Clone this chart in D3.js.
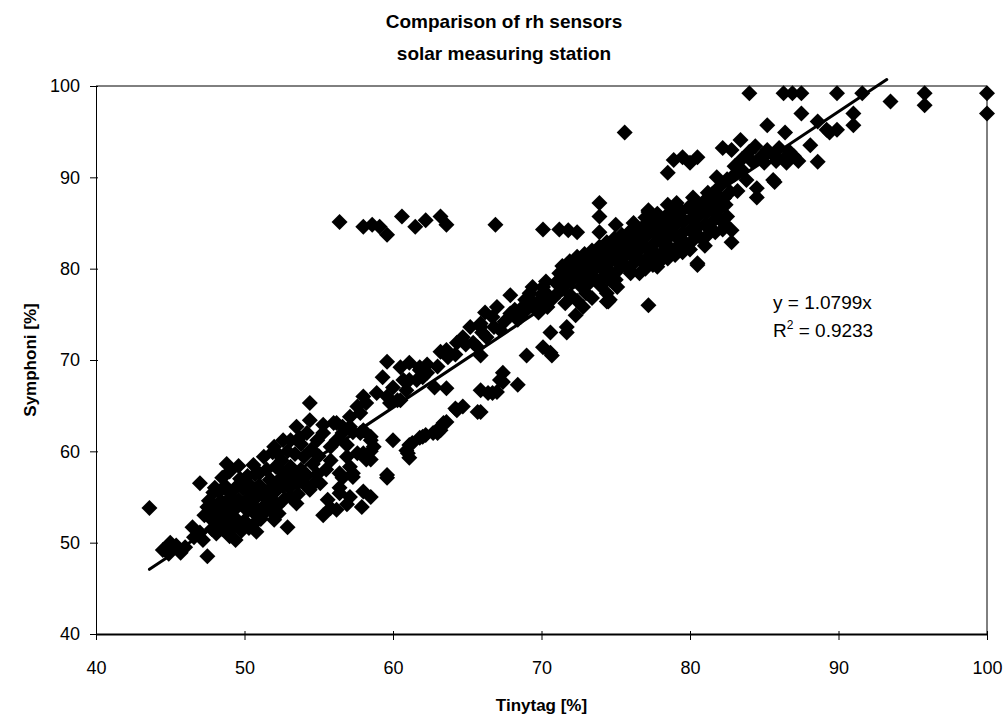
<!DOCTYPE html>
<html>
<head>
<meta charset="utf-8">
<script src="https://cdn.jsdelivr.net/npm/d3@7"></script>
<style>
  html, body { margin: 0; padding: 0; background: #fff; }
  svg { display: block; font-family: "Liberation Sans", Arial, sans-serif; }
</style>
</head>
<body>
<svg id="chart" width="1006" height="720"></svg>
<script>
// ---------------- DATA ----------------
const titleLines = ["Comparison of rh sensors", "solar measuring station"];
const xTitle = "Tinytag [%]";
const yTitle = "Symphoni [%]";
const xTicks = [40, 50, 60, 70, 80, 90, 100];
const yTicks = [40, 50, 60, 70, 80, 90, 100];
const slope = 1.0799;
const rSquared = "0.9233";

// [Tinytag, Symphoni]
const pointsLow = [
  [43.6,53.8],[44.5,49.2],[45.0,50.0],[45.0,49.2],[45.7,48.9],[45.4,49.7],[46.0,49.5],[44.9,48.8],
  [46.5,51.7],[47.0,51.1],[46.6,50.6],[47.5,48.5],[47.2,50.3],
  [47.0,56.5],[48.5,57.1],[47.5,53.9],[47.9,55.5],[47.8,52.5],[48.0,53.3],[47.6,54.6],
  [48.5,51.5],[48.8,52.3],[48.6,53.5],[48.9,54.5],[48.3,55.6],[48.7,56.2],[49.0,50.7],[49.2,51.6],
  [49.3,52.8],[49.5,53.9],[49.1,55.0],[49.4,56.0],[49.7,57.0],[49.8,51.3],[50.0,52.4],[50.2,53.5],
  [50.1,54.6],[50.4,55.5],[49.9,55.9],[50.6,52.0],[50.8,53.0],[50.5,54.2],[50.9,55.1],[51.0,56.3],
  [51.2,53.8],[51.4,54.9],[51.1,52.6],[51.6,55.7],[51.8,56.8],[50.8,51.2],[49.4,50.3],[52.9,51.7],[52.0,52.5],
  [48.2,54.0],[48.0,56.0],[47.3,53.0],[49.6,54.7],[50.3,56.4],[50.7,57.5],[49.0,57.8],[48.4,52.1],[48.1,51.0],
  [51.7,56.9],[52.6,57.6],[53.1,58.3],[54.0,59.4],[54.9,61.2],[55.3,62.0],[54.2,62.0],[53.5,62.7],[53.1,61.2],
  [52.2,59.8],[51.3,59.4],[50.6,58.5],[52.0,60.5],[52.6,61.2],
  [54.4,63.4],[55.3,62.9],[56.0,63.1],[54.4,65.3],
  [54.4,55.8],[55.1,56.5],[54.2,57.4],[53.1,55.0],[53.5,54.3],[55.6,54.7],[56.4,55.4],
  [52.0,54.5],[52.2,55.8],[52.4,57.0],[52.1,58.3],[52.6,56.2],[52.8,57.6],[52.3,53.2],[53.6,56.5],
  [53.0,57.0],[53.8,58.0],[54.6,58.6],[54.9,57.5],[53.4,59.7],[52.9,60.0],
  [51.5,58.0],[51.0,57.6],[50.2,57.3],[51.9,53.3],
  [55.8,53.8],[55.3,53.0],[56.2,53.6],[56.6,57.1],[57.3,57.2],[56.4,56.0],[57.1,55.0],[56.9,54.2],
  [58.0,55.6],[58.5,55.0],[57.9,53.9],[59.6,57.1],
  [56.9,60.7],[57.6,59.8],[58.2,59.1],[58.5,60.0],[57.8,62.0],[57.3,62.1],[56.6,62.7],[56.2,63.1],
  [55.8,60.5],[56.2,61.2],[56.6,62.0],[57.1,62.7],[58.0,62.3],[58.5,61.2],[58.0,59.8],[58.5,59.1],
  [56.9,59.4],[57.1,58.3],[56.4,57.6],[57.3,57.6],[58.7,60.5],[58.5,61.6],
  [47.8,51.5],[48.2,52.8],[48.4,54.6],[48.9,55.6],[49.1,53.4],[49.6,52.2],[49.8,54.2],[50.3,51.6],[50.6,53.5],
  [50.7,55.8],[51.3,53.2],[51.5,54.3],[51.7,55.2],[51.2,55.6],[52.2,54.0],[52.4,56.3],[53.0,56.0],[53.3,57.5],
  [52.7,54.8],[50.0,56.9],[49.6,58.4],[48.8,58.6],[53.8,60.8],[54.5,60.2],[55.0,59.5],[53.9,57.2],[55.5,58.0],
  [55.8,59.0],[54.1,56.3],[54.8,56.7],[53.6,55.3],[52.5,59.0],[51.9,59.9],[53.7,61.5]
];

const pointsMid = [
  [58.9,66.4],[59.6,66.0],[60.5,65.6],[58.0,66.0],[57.6,64.9],[57.1,63.8],[59.8,65.3],[58.2,65.3],[57.8,64.2],
  [59.6,69.8],[60.5,69.2],[61.1,69.7],[61.8,69.2],[62.3,68.6],[61.6,67.8],[60.7,67.8],[60.0,67.0],[59.3,68.1],
  [60.9,66.7],[62.0,68.1],[61.1,67.8],
  [63.2,70.9],[63.6,71.1],[63.7,70.3],[62.3,69.5],[61.8,68.9],[60.3,65.6],
  [64.7,72.5],[65.2,73.6],[65.9,74.0],[66.7,74.7],[65.4,71.9],[66.3,72.5],[67.2,73.3],[65.7,71.4],[65.9,73.6],
  [67.9,75.1],[68.4,74.4],[68.6,74.7],[69.0,75.5],[69.9,76.6],[69.4,78.0],[67.9,77.1],[69.2,77.3],[70.1,78.0],
  [71.0,78.4],[70.5,77.0],[71.5,79.0],
  [62.8,67.0],[63.0,69.3],[64.2,70.6],[65.9,70.5],
  [69.5,76.2],[70.0,77.2],[70.4,75.8],[70.8,76.8],[71.2,77.5],[71.6,76.2],[72.0,77.0],[72.4,76.5],
  [69.8,75.2],[68.8,75.9],[70.3,78.6],[73.0,77.3],[73.4,76.8],
  [74.6,78.8],[75.1,78.0],[74.4,77.3],[76.6,79.5],[75.9,79.9],[77.8,80.2],
  [66.0,73.0],[66.8,73.6],[67.5,74.2],[68.2,75.5],[68.9,76.6],[67.0,75.8],[66.2,75.2],[64.9,71.7],[64.3,71.9]
];

const pointsLowerBranch = [
  [59.6,57.4],[60.0,61.2],[61.1,60.7],[61.0,59.8],[61.1,59.3],[60.9,60.1],[61.3,60.9],[61.8,61.5],[62.0,61.6],
  [62.2,61.8],[62.7,62.0],[63.0,62.0],[63.2,62.3],[63.2,62.7],[63.4,63.1],[63.6,63.2],[63.6,66.9],
  [64.2,64.7],[64.3,64.5],[64.7,64.9],[65.7,64.3],[65.9,64.3],[65.9,66.7],[66.4,66.4],[66.7,66.4],[67.0,66.5],
  [67.2,67.8],[67.4,67.6],[67.4,68.6],[68.4,67.3],
  [69.0,70.5],[70.1,71.4],[70.6,70.8],[70.7,70.5],[70.6,73.0],[71.7,73.6],[71.7,73.0],[72.3,74.9],[72.8,75.8],
  [74.4,76.4],[74.6,76.6],[74.5,76.4],[77.2,76.0]
];

const pointsMain = [
  [71.0,78.5],[71.2,79.5],[71.5,78.0],[71.6,79.2],[71.4,80.3],[72.0,78.6],[72.1,79.8],[71.9,80.8],
  [72.5,79.0],[72.6,80.2],[72.4,81.3],[72.7,78.0],[73.0,79.4],[73.1,80.6],[72.9,81.6],[73.2,78.4],
  [73.5,79.8],[73.6,81.0],[73.4,82.0],[73.7,78.8],[74.0,80.2],[74.1,81.4],[73.9,82.4],[74.2,79.2],[74.0,78.1],
  [74.5,80.5],[74.6,81.8],[74.4,82.9],[74.7,79.5],[75.0,80.9],[75.1,82.1],[74.9,83.3],[75.2,79.9],[75.0,78.8],
  [75.5,81.2],[75.6,82.5],[75.4,83.7],[75.7,80.3],[76.0,81.6],[76.1,82.9],[75.9,84.0],[76.2,80.6],[76.0,79.5],
  [76.5,81.9],[76.6,83.2],[76.4,84.4],[76.7,80.9],[77.0,82.3],[77.1,83.6],[76.9,84.7],[77.2,81.3],[77.0,80.0],
  [77.5,82.6],[77.6,83.9],[77.4,85.1],[77.7,81.6],[77.5,80.4],[78.0,83.0],[78.1,84.2],[77.9,85.4],[78.2,81.9],
  [78.0,80.8],[77.2,86.4],[78.5,83.3],[78.6,84.6],[78.4,85.8],[78.7,82.2],[78.5,81.1],
  [79.0,83.6],[79.1,84.9],[78.9,86.1],[79.2,82.5],[79.0,81.5],[79.1,87.2],[79.5,83.9],[79.6,85.2],[79.4,86.4],
  [79.7,82.8],[79.5,81.8],[80.0,84.2],[80.1,85.5],[79.9,86.7],[80.2,83.1],[80.0,82.1],
  [80.5,84.5],[80.6,85.8],[80.4,87.0],[80.7,83.4],[80.5,80.6],[81.0,84.8],[81.1,86.1],[80.9,87.3],[81.2,83.7],
  [81.0,82.5],[81.5,85.1],[81.6,86.4],[81.4,87.6],[81.7,84.0],[82.0,85.4],[82.1,86.7],[81.9,88.0],[82.2,84.3],
  [82.5,85.7],[82.4,87.0],[78.5,87.0],[77.2,86.2],[80.5,80.4],[82.8,84.2],[82.8,82.9],
  [71.3,78.9],[71.8,79.7],[72.3,80.0],[72.8,80.9],[73.3,81.3],[73.8,81.7],[74.3,82.2],[74.8,82.6],[75.3,83.0],
  [75.8,83.3],[76.3,83.7],[76.8,84.0],[77.3,84.4],[77.8,84.7],[78.3,85.1],[78.8,85.4],[79.3,85.8],[80.3,86.3],
  [80.8,86.6],[81.3,86.9],[81.8,87.2],
  [73.3,79.6],[74.3,80.0],[75.3,80.5],[76.3,81.2],[77.3,81.9],[78.3,82.5],[79.3,83.2],[80.3,83.8],[81.3,84.4],
  [82.3,85.0],[76.2,85.0],[77.0,85.6],[77.8,86.0],[80.2,87.8],[81.2,88.3],[82.7,88.4]
];

const pointsHigh = [
  [81.5,88.2],[82.0,89.0],[82.5,89.8],[83.0,90.3],[83.5,90.8],[82.3,87.7],[83.2,88.5],[81.8,90.0],
  [83.8,89.7],[84.5,88.8],[84.5,87.8],[85.6,89.7],[85.7,89.5],
  [78.5,90.5],[78.9,91.9],[79.5,92.2],[80.0,91.6],[80.5,92.2],
  [82.2,93.2],[82.8,93.0],[83.4,94.1],
  [83.5,92.0],[84.0,92.8],[84.4,93.4],[84.8,92.3],[85.2,93.0],[85.6,92.5],[86.0,93.2],[86.3,92.0],[86.7,92.8],
  [87.0,92.3],[87.3,91.8],[84.2,91.7],[85.0,91.6],[85.8,91.8],[86.5,91.6],[83.0,91.2],[88.1,93.5],[88.6,91.7],
  [86.4,94.9]
];

const pointsTop = [
  [84.0,99.2],[86.3,99.2],[86.9,99.2],[87.5,99.2],[89.9,99.2],[91.6,99.2],[93.5,98.3],[95.8,99.2],[95.8,97.9],
  [100.0,99.2],[100.0,97.0],[87.5,97.0],[85.2,95.7],[91.0,97.0],[91.0,95.7],[88.6,96.1],[89.2,95.2],[89.9,95.2],
  [89.4,94.9],[75.6,94.9]
];

const pointsOutliers = [
  [56.4,85.1],[58.0,84.6],[58.6,84.8],[59.1,84.6],[59.6,83.7],[60.6,85.7],[61.5,84.6],[62.2,85.3],[63.2,85.7],
  [63.6,84.8],[66.9,84.8],[70.1,84.3],[71.2,84.3],[71.8,84.2],[72.4,84.0],[73.9,87.2],[73.9,85.7],[73.9,84.0],
  [75.0,84.8]
];

// ---------------- CHART ----------------
const svg = d3.select("#chart");
const W = 1006, H = 720;
const plot = { left: 96, right: 987, top: 86, bottom: 634 };

const x = d3.scaleLinear().domain([40, 100]).range([plot.left, plot.right]);
const y = d3.scaleLinear().domain([40, 100]).range([plot.bottom, plot.top]);

svg.append("rect").attr("width", W).attr("height", H).attr("fill", "#fff");

// Title
svg.append("g").selectAll("text").data(titleLines).join("text")
  .attr("x", 504).attr("y", (d, i) => 28 + i * 32)
  .attr("text-anchor", "middle")
  .attr("font-size", 19).attr("font-weight", "bold")
  .text(d => d);

// Plot frame (top & right)
svg.append("path")
  .attr("d", `M${plot.left},${plot.top}H${plot.right}V${plot.bottom}`)
  .attr("fill", "none").attr("stroke", "#000").attr("stroke-width", 1);

// X axis
const gx = svg.append("g").attr("transform", `translate(0,${plot.bottom})`)
  .call(d3.axisBottom(x).tickValues(xTicks).tickSizeInner(6).tickSizeOuter(0).tickPadding(21));
gx.select(".domain").attr("stroke-width", 2);
gx.selectAll(".tick line").attr("y1", -3).attr("y2", 6);
gx.selectAll(".tick text").attr("font-size", 18).attr("font-family", "Liberation Sans, Arial, sans-serif").attr("fill", "#000");

// Y axis
const gy = svg.append("g").attr("transform", `translate(${plot.left},0)`)
  .call(d3.axisLeft(y).tickValues(yTicks).tickSizeInner(6).tickSizeOuter(0).tickPadding(10));
gy.selectAll(".tick line").attr("x1", -6).attr("x2", 2);
gy.selectAll(".tick text").attr("font-size", 18).attr("font-family", "Liberation Sans, Arial, sans-serif").attr("fill", "#000");

// Axis titles
svg.append("text").attr("x", (plot.left + plot.right) / 2).attr("y", 711)
  .attr("text-anchor", "middle").attr("font-size", 17).attr("font-weight", "bold").text(xTitle);
svg.append("text")
  .attr("transform", `translate(36,${(plot.top + plot.bottom) / 2}) rotate(-90)`)
  .attr("text-anchor", "middle").attr("font-size", 17).attr("font-weight", "bold").text(yTitle);

// Points
const allPoints = [].concat(pointsLow, pointsMid, pointsLowerBranch, pointsMain, pointsHigh, pointsTop, pointsOutliers);
const r = 8;
const diamond = `M0,${-r}L${r},0L0,${r}L${-r},0Z`;
svg.append("g").selectAll("path").data(allPoints).join("path")
  .attr("transform", d => `translate(${x(d[0])},${y(d[1])})`)
  .attr("d", diamond)
  .attr("fill", "#000");

// Trendline y = slope * x
const xMin = d3.min(allPoints, d => d[0]);
const xEnd = 100.7 / slope;
svg.append("line")
  .attr("x1", x(xMin)).attr("y1", y(slope * xMin))
  .attr("x2", x(xEnd)).attr("y2", y(slope * xEnd))
  .attr("stroke", "#000").attr("stroke-width", 3).attr("stroke-linecap", "round");

// Equation
const eq = svg.append("text").attr("font-size", 19).attr("x", 773).attr("y", 309);
eq.text(`y = ${slope}x`);
const r2 = svg.append("text").attr("font-size", 19).attr("x", 773).attr("y", 337);
r2.append("tspan").text("R");
r2.append("tspan").attr("font-size", 12).attr("dy", -8).text("2");
r2.append("tspan").attr("dy", 8).text(` = ${rSquared}`);
</script>
</body>
</html>
